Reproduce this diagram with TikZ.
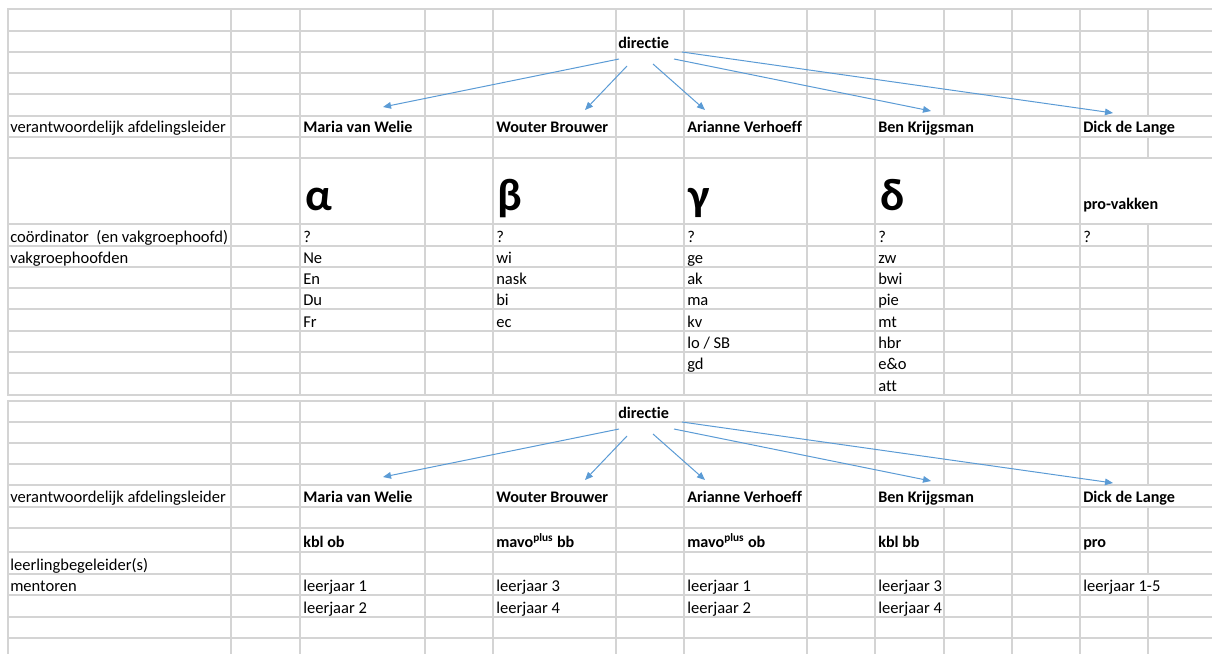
\documentclass[tikz,border=0pt]{standalone}
\usepackage{fontspec}
\setmainfont{Carlito}[Ligatures=NoCommon]
\usetikzlibrary{arrows,arrows.meta,positioning}
\definecolor{rooster}{RGB}{212,212,212}
\definecolor{pijlblauw}{RGB}{91,155,213}

\begin{document}
\begin{tikzpicture}[x=0.75pt,y=-0.75pt]
\tikzstyle{every node}+=[inner sep=0pt, anchor=base west, font=\fontsize{12.4}{14}\selectfont]
\tikzstyle{kop}=[font=\fontsize{12.1}{14}\selectfont\bfseries]
\tikzstyle{groot}=[font=\fontsize{34}{36}\selectfont\bfseries]
\tikzstyle{lijn}=[draw=rooster, line width=1pt, line cap=rect]
\tikzstyle{pijl}=[draw=pijlblauw, line width=0.75pt, -{Triangle[length=6pt,width=5pt]}]
\useasboundingbox (0,0) rectangle (1212,653);

% rooster bovenste tabel
\foreach \y in {9,31,52,73,94,116,137,158,224,246,267,288,309,331,352,373,395}
  \draw[lijn] (8,\y) -- (1212,\y);
\foreach \x in {8,231,300,425,493,616,684,807,875,1012,1080}
  \draw[lijn] (\x,9) -- (\x,395);
\draw[lijn] (944,9) -- (944,116) (944,137) -- (944,395);
\draw[lijn] (1148,9) -- (1148,116) (1148,137) -- (1148,158) (1148,224) -- (1148,395);

% rooster onderste tabel
\foreach \y in {401,422,443,464,485,507,528,552,574,595,617,638}
  \draw[lijn] (8,\y) -- (1212,\y);
\foreach \x in {8,231,300,425,493,616,684,807,875,1012,1080}
  \draw[lijn] (\x,401) -- (\x,653);
\draw[lijn] (944,401) -- (944,485) (944,507) -- (944,653);
\draw[lijn] (1148,401) -- (1148,485) (1148,507) -- (1148,574) (1148,595) -- (1148,653);

% bovenste tabel: vakgroepen
\node[kop] (dirA) at (618,48) {directie};
\node (afdA) at (10,132) {verantwoordelijk afdelingsleider};
\node[kop] (mariaA) at (303,132) {Maria van Welie};
\node[kop] (wouterA) at (496,132) {Wouter Brouwer};
\node[kop] (arianneA) at (687,132) {Arianne Verhoeff};
\node[kop] (benA) at (878,132) {Ben Krijgsman};
\node[kop] (dickA) at (1083,132) {Dick de Lange};

\node[groot] (alfa) at (305,210) {α};
\node[groot] (beta) at (497,210) {β};
\node[groot] (gamma) at (688,210) {γ};
\node[groot] (delta) at (880,210) {δ};
\node[kop] (pro) at (1083,209) {pro-vakken};

\node (coord) at (10,242) {coördinator\ \ (en vakgroephoofd)};
\node (vraag1) at (303,242) {?};
\node (vraag2) at (496,242) {?};
\node (vraag3) at (687,242) {?};
\node (vraag4) at (878,242) {?};
\node (vraag5) at (1083,242) {?};

\node (vgh) at (10,263) {vakgroephoofden};
\node (ne) at (303,263) {Ne};
\node (en) at (303,284) {En};
\node (du) at (303,305) {Du};
\node (fr) at (303,327) {Fr};
\node (wi) at (496,263) {wi};
\node (nask) at (496,284) {nask};
\node (bi) at (496,305) {bi};
\node (ec) at (496,327) {ec};
\node (ge) at (687,263) {ge};
\node (ak) at (687,284) {ak};
\node (ma) at (687,305) {ma};
\node (kv) at (687,327) {kv};
\node (lo) at (687,348) {lo / SB};
\node (gd) at (687,369) {gd};
\node (zw) at (878,263) {zw};
\node (bwi) at (878,284) {bwi};
\node (pie) at (878,305) {pie};
\node (mt) at (878,327) {mt};
\node (hbr) at (878,348) {hbr};
\node (eo) at (878,369) {e\&o};
\node (att) at (878,391) {att};

% pijlen bovenste tabel
\coordinate (sA1) at (619,59);
\coordinate (sA2) at (627,66);
\coordinate (sA3) at (653,64);
\coordinate (sA4) at (674,59);
\coordinate (sA5) at (682,52);
\coordinate (tA1) at (383,107);
\coordinate (tA2) at (585,110);
\coordinate (tA3) at (705,110);
\coordinate (tA4) at (931,111);
\coordinate (tA5) at (1113,113);
\draw[pijl] (sA1) -- (tA1);
\draw[pijl] (sA2) -- (tA2);
\draw[pijl] (sA3) -- (tA3);
\draw[pijl] (sA4) -- (tA4);
\draw[pijl] (sA5) -- (tA5);

% onderste tabel: afdelingen
\node[kop] (dirB) at (618,418) {directie};
\node (afdB) at (10,502) {verantwoordelijk afdelingsleider};
\node[kop] (mariaB) at (303,502) {Maria van Welie};
\node[kop] (wouterB) at (496,502) {Wouter Brouwer};
\node[kop] (arianneB) at (687,502) {Arianne Verhoeff};
\node[kop] (benB) at (878,502) {Ben Krijgsman};
\node[kop] (dickB) at (1083,502) {Dick de Lange};

\node[kop] (kblob) at (303,547) {kbl ob};
\node[kop] (mavobb) at (496,547) {mavo\textsuperscript{plus} bb};
\node[kop] (mavoob) at (687,547) {mavo\textsuperscript{plus} ob};
\node[kop] (kblbb) at (878,547) {kbl bb};
\node[kop] (prolwoo) at (1083,547) {pro};

\node (llb) at (10,570) {leerlingbegeleider(s)};
\node (mentor) at (10,591) {mentoren};
\node (lj1a) at (303,591) {leerjaar 1};
\node (lj2a) at (303,613) {leerjaar 2};
\node (lj3b) at (496,591) {leerjaar 3};
\node (lj4b) at (496,613) {leerjaar 4};
\node (lj1c) at (687,591) {leerjaar 1};
\node (lj2c) at (687,613) {leerjaar 2};
\node (lj3d) at (878,591) {leerjaar 3};
\node (lj4d) at (878,613) {leerjaar 4};
\node (lj15) at (1083,591) {leerjaar 1-5};

% pijlen onderste tabel
\coordinate (sB1) at (619,429);
\coordinate (sB2) at (627,436);
\coordinate (sB3) at (653,434);
\coordinate (sB4) at (674,429);
\coordinate (sB5) at (682,422);
\coordinate (tB1) at (383,477);
\coordinate (tB2) at (585,480);
\coordinate (tB3) at (705,480);
\coordinate (tB4) at (931,481);
\coordinate (tB5) at (1113,483);
\draw[pijl] (sB1) -- (tB1);
\draw[pijl] (sB2) -- (tB2);
\draw[pijl] (sB3) -- (tB3);
\draw[pijl] (sB4) -- (tB4);
\draw[pijl] (sB5) -- (tB5);
\end{tikzpicture}
\end{document}
